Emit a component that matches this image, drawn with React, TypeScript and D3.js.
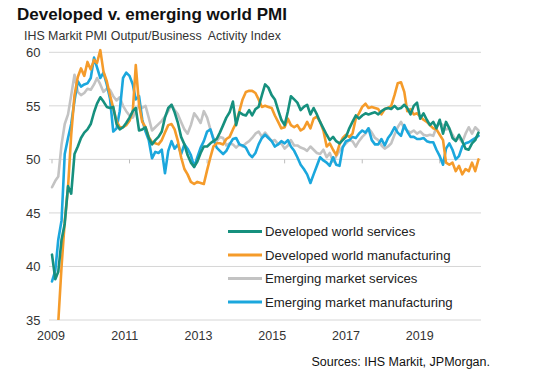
import React from "react";
import * as d3 from "d3";

const W = 548;
const H = 378;

const years = ["2009", "2011", "2013", "2015", "2017", "2019"];
const yTicks = [35, 40, 45, 50, 55, 60];
const startMonth = new Date(2009, 0, 1);

const devServ = [
  41.1, 38.8, 39.5, 42.5, 44.0, 47.5, 46.8, 50.5, 51.2, 52.0, 52.5, 52.8,
  53.3, 54.4, 55.2, 55.8, 55.4, 54.9, 54.8, 54.9, 53.3, 52.8, 53.0, 53.4,
  53.9, 54.5, 54.8, 52.7, 52.8, 53.0, 52.0, 51.4, 51.8, 52.1, 52.6, 53.9,
  54.8, 55.1, 54.4, 53.4, 52.1, 51.4, 50.4, 49.7, 49.3, 49.8, 50.6, 51.2,
  51.2, 51.5, 51.7, 51.9, 52.5, 53.2, 53.9, 54.4, 55.4, 53.2, 54.4, 54.2,
  54.1, 54.6, 54.1, 54.7, 54.9, 56.0, 57.0, 56.7, 56.0, 55.6, 54.6, 53.7,
  53.2, 54.5, 55.9, 55.6, 55.3, 54.6, 54.9, 55.1, 54.2, 54.8, 54.2, 53.5,
  52.9, 52.3, 51.8, 52.1, 51.7, 51.5, 51.8, 52.1, 52.9, 53.5, 54.1, 53.8,
  54.1, 54.3, 54.2, 54.3, 54.4, 54.2, 54.5, 54.7, 54.8, 54.7, 55.0, 54.7,
  54.8, 55.1, 54.8, 54.2, 55.0, 55.3, 53.8, 54.3, 53.7, 53.2, 53.5, 52.9,
  53.7, 52.4, 53.5, 52.9, 52.0, 51.7, 52.3, 51.7, 51.0, 50.9, 51.5, 51.8,
  52.5,
];

const devMfg = [
  33.0, 33.5, 34.8, 40.0, 44.2, 47.4, 52.3, 56.0, 57.7, 58.5, 57.8, 59.1,
  58.4, 59.3, 59.0, 60.2, 58.2, 57.3, 56.0, 54.8, 53.6, 53.0, 53.0, 53.2,
  53.6, 54.5, 58.8, 55.1, 53.5, 53.0, 52.1, 51.6, 51.5, 51.4, 51.8, 52.5,
  53.2, 53.3, 52.8, 51.7, 50.2, 49.1, 48.6, 47.9, 47.7, 47.9, 47.8, 47.7,
  49.0, 50.2, 51.2, 51.5, 51.5, 51.4, 51.9, 52.1, 52.8, 53.4, 54.5, 55.6,
  56.3, 56.4, 56.4, 56.2, 55.6, 54.9, 55.0, 54.9, 54.8, 54.1, 53.5, 52.9,
  53.0, 53.8, 53.2, 53.0, 53.2, 52.7, 52.9, 53.5, 52.9, 53.8, 54.0, 53.5,
  52.7, 51.2, 51.5, 50.9, 50.4, 51.4, 52.0, 52.3, 52.1, 52.4, 53.8, 54.3,
  54.9, 55.2, 54.8, 54.9, 54.8, 54.7, 54.2, 54.7, 54.8, 55.0, 56.0, 57.1,
  57.2, 56.3, 54.5, 54.7, 54.2, 54.3, 54.0, 53.7, 53.5, 53.2, 52.9, 52.8,
  52.3, 51.8, 49.7, 49.5, 49.7, 48.9, 49.4, 48.6, 49.1, 48.9, 49.7, 48.9,
  50.0,
];

const emServ = [
  47.4, 48.0, 48.4, 51.4, 53.3, 54.2, 56.0, 57.9, 56.3, 56.0, 56.2, 56.6,
  56.5, 57.0, 57.6, 57.0, 56.3, 56.6, 56.5, 55.9, 55.5, 55.8, 55.0, 54.5,
  54.1, 53.9, 54.5, 55.1, 54.8, 55.0, 53.9, 52.7, 53.0, 53.3, 53.6, 54.0,
  54.5, 55.1, 54.6, 54.2, 53.5, 52.8, 52.4, 53.2, 54.3, 53.9, 53.4, 54.5,
  53.9, 52.8, 52.0, 51.7, 52.1, 52.0, 51.3, 51.5, 51.4, 51.1, 51.4, 51.2,
  51.5, 51.7, 52.0, 52.4, 52.6, 52.1, 52.5, 52.1, 51.7, 51.8, 51.4, 51.5,
  51.0, 51.3, 51.8, 51.3, 51.3, 51.1, 51.0, 50.8, 51.2, 50.9, 50.6, 50.5,
  50.9, 50.2, 50.6, 49.8, 50.3, 50.8, 51.2, 51.5, 51.8, 51.7, 51.2, 51.7,
  52.1, 52.4, 52.9, 52.5, 52.0, 51.8, 51.3, 51.0, 51.2, 51.5, 52.3, 53.0,
  53.5, 52.9, 52.7, 52.5, 52.7, 52.4, 52.6, 52.3, 52.2, 52.3, 52.2, 53.0,
  53.4, 53.2, 52.8, 52.9, 52.3, 51.8, 52.0, 51.6, 52.4, 53.0, 52.4, 53.0,
  52.7,
];

const emMfg = [
  38.6, 39.6, 42.5, 44.3, 50.5, 52.0, 53.3, 55.5, 57.3, 56.8, 57.0, 57.1,
  57.6, 59.5, 58.6, 57.6, 58.1, 57.0, 55.7, 52.6, 52.9, 54.5, 57.6, 58.1,
  57.8, 57.0, 55.6, 55.9, 53.7, 52.6, 51.8, 50.1, 50.7, 50.6, 50.9, 48.7,
  50.8, 51.7, 51.0, 51.4, 50.5, 51.4, 51.0, 50.4, 49.3, 50.2, 51.1, 51.7,
  52.6, 52.8, 51.9, 51.1, 50.8, 50.5, 50.8, 51.4, 51.9, 52.0, 51.4, 51.3,
  51.1, 50.5, 50.2, 50.6, 51.4, 52.0, 52.3, 52.0, 51.7, 51.2, 51.4, 51.7,
  51.5, 51.8, 51.2, 50.8, 50.2, 49.5, 49.1, 48.6, 47.8, 48.6, 49.4, 50.2,
  49.9, 49.7, 49.4, 50.2, 49.5, 49.4, 51.1, 51.7, 51.8, 52.1, 52.0, 52.4,
  52.7, 52.5, 52.9, 51.8, 51.4, 51.4, 51.9, 51.3, 52.0, 52.4, 53.0, 52.5,
  52.2, 53.2, 52.6, 52.1, 52.1, 51.9, 51.9, 52.0, 51.7, 51.6, 51.6, 50.9,
  50.3, 49.5, 51.0, 51.5, 50.9, 50.0, 50.3, 51.2, 51.5, 51.6, 51.8, 52.0,
  52.2,
];

const seriesNames = [
  "Developed world services",
  "Developed world manufacturing",
  "Emerging market services",
  "Emerging market manufacturing",
];
const seriesValues = [devServ, devMfg, emServ, emMfg];
const seriesColors = ["#16907e", "#f59b2a", "#c3c3c3", "#1ba7dd"];
// draw order: grey first, then blue, orange, teal on top
const drawOrder = [2, 3, 1, 0];

const FONT = "'Liberation Sans', Arial, Helvetica, sans-serif";

export default function App() {
  const x = d3
    .scaleTime()
    .domain([startMonth, d3.timeMonth.offset(startMonth, 132)])
    .range([52, 478.5]);
  const y = d3.scaleLinear().domain([35, 60]).range([320, 52.3]);
  const gridRight = 481;
  const gridLeft = 49;

  const labelX = d3
    .scaleLinear()
    .domain([2009, 2019])
    .range([x(new Date(2009, 0, 1)) - 1, x(new Date(2019, 0, 1)) - 20]);

  const line = d3
    .line<number>()
    .x((_, i) => x(d3.timeMonth.offset(startMonth, i)))
    .y((d) => y(d));

  const legendY = d3.scaleLinear().domain([0, 3]).range([231.5, 302]);

  return (
    <svg width={W} height={H} style={{ position: "absolute", left: 0, top: 0, background: "#fff" }}>
      <defs>
        <clipPath id="plotClip">
          <rect x={gridLeft} y={40} width={gridRight - gridLeft + 5} height={y(35) - 40} />
        </clipPath>
      </defs>
      <rect x={0} y={0} width={W} height={H} fill="#fff" />
      <text x={17} y={19.5} fontFamily={FONT} fontWeight="bold" fontSize={17} fill="#111">
        Developed v. emerging world PMI
      </text>
      <text x={24} y={39.5} fontFamily={FONT} fontSize={12.4} fill="#333" style={{ whiteSpace: "pre" }}>
        {"IHS Markit PMI Output/Business  Activity Index"}
      </text>

      {yTicks.map((t) => (
        <g key={t}>
          <line x1={gridLeft} x2={gridRight} y1={y(t)} y2={y(t)} stroke="#d6d6d6" strokeWidth={1} />
          <text x={40.5} y={y(t)} dy="0.36em" textAnchor="end" fontFamily={FONT} fontSize={13} fill="#333">
            {t}
          </text>
        </g>
      ))}

      {years.map((yr) => {
        const xx = x(new Date(+yr, 0, 1));
        return (
          <g key={yr}>
            <line x1={xx} x2={xx} y1={y(50)} y2={y(50) + 4} stroke="#bdbdbd" strokeWidth={1} />
            <text x={labelX(+yr)} y={340} textAnchor="middle" fontFamily={FONT} fontSize={12.5} fill="#333">
              {yr}
            </text>
          </g>
        );
      })}

      <g clipPath="url(#plotClip)">
        {drawOrder.map((k) => (
          <path
            key={k}
            d={line(seriesValues[k]) || ""}
            fill="none"
            stroke={seriesColors[k]}
            strokeWidth={2.6}
            strokeLinejoin="round"
            strokeLinecap="round"
          />
        ))}
      </g>

      {seriesNames.map((name, i) => (
        <g key={name}>
          <line x1={228} x2={262} y1={legendY(i)} y2={legendY(i)} stroke={seriesColors[i]} strokeWidth={3} />
          <text x={265} y={legendY(i)} dy="0.36em" fontFamily={FONT} fontSize={13.2} fill="#222">
            {name}
          </text>
        </g>
      ))}

      <text x={490} y={366} textAnchor="end" fontFamily={FONT} fontSize={12.5} fill="#111">
        Sources: IHS Markit, JPMorgan.
      </text>
    </svg>
  );
}
